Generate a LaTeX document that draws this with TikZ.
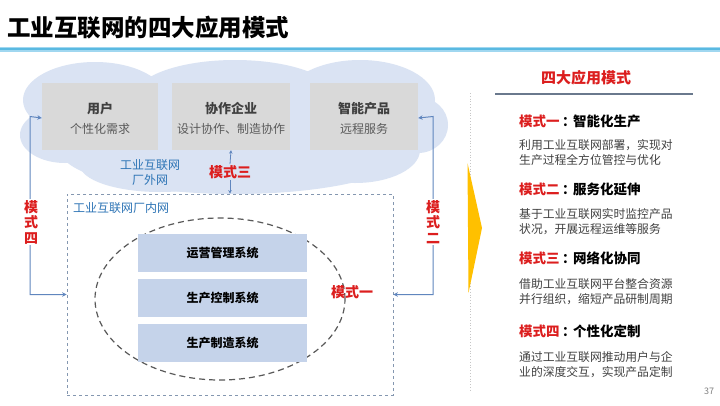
\documentclass[tikz,border=0pt]{standalone}
\usepackage{fontspec}
\setmainfont{Noto Sans CJK SC}
\usetikzlibrary{arrows.meta,shapes.geometric}
\definecolor{cloudc}{RGB}{218,227,243}
\definecolor{boxgray}{RGB}{217,217,217}
\definecolor{sysblue}{RGB}{197,211,234}
\definecolor{redc}{RGB}{220,30,30}
\definecolor{bluetext}{RGB}{46,117,182}
\definecolor{arrowc}{RGB}{96,134,190}
\definecolor{dashc}{RGB}{132,151,176}
\definecolor{darktext}{RGB}{64,64,64}
\definecolor{midtext}{RGB}{89,89,89}
\definecolor{yellowc}{RGB}{255,192,0}
\definecolor{bandc}{RGB}{90,185,225}
\definecolor{bandl}{RGB}{160,215,240}
\newcommand{\fwcolon}{\hspace{2.5pt}：\hspace{-2.5pt}}
\begin{document}
\begin{tikzpicture}[x=1pt,y=-1pt,
  graybox/.style={fill=boxgray, minimum height=67, inner sep=0pt, align=center},
  sysbox/.style={fill=sysblue, minimum width=169, minimum height=38, inner sep=0pt, font=\bfseries\fontsize{12}{12}\selectfont, text=black},
  redlab/.style={text=redc, font=\bfseries\fontsize{14}{16}\selectfont, inner sep=1pt, align=center},
  conn/.style={arrowc, line width=1pt, {Stealth[length=4.5pt,width=4.5pt]}-{Stealth[length=4.5pt,width=4.5pt]}},
  head/.style={anchor=west, inner sep=0pt, font=\bfseries\fontsize{13.5}{14}\selectfont},
  desc/.style={anchor=west, inner sep=0pt, align=left, text=darktext, font=\fontsize{11.8}{15}\selectfont}
]
\useasboundingbox (0,0) rectangle (720,405);
\fill[white] (0,0) rectangle (720,405);
% title
\node[anchor=west, inner sep=0pt, font=\bfseries\fontsize{23.5}{24}\selectfont] (title) at (7,28) {工业互联网的四大应用模式};
\fill[bandl] (0,47) rectangle (720,52);
\fill[bandc] (0,47.5) rectangle (720,50);
% cloud
\begin{scope}[cloudc]
\fill (95,100) ellipse [x radius=72, y radius=38];
\fill (235,96) ellipse [x radius=100, y radius=36];
\fill (360,100) ellipse [x radius=75, y radius=40];
\fill (418,125) ellipse [x radius=30, y radius=28];
\fill (65,135) ellipse [x radius=45, y radius=28];
\fill (235,150) ellipse [x radius=175, y radius=44];
\fill (160,165) ellipse [x radius=80, y radius=27];
\fill (355,150) ellipse [x radius=65, y radius=33];
\end{scope}
% top boxes
\node[graybox, minimum width=116] (user) at (100,116.5) {};
\node[graybox, minimum width=118] (coop) at (231,116.5) {};
\node[graybox, minimum width=108] (prod) at (364,116.5) {};
\foreach \n/\a/\b in {user/用户/个性化需求, coop/协作企业/设计协作、制造协作, prod/智能产品/远程服务}{
  \node[inner sep=0pt, text=darktext, font=\bfseries\fontsize{13}{13}\selectfont] (\n-t) at ([yshift=8]\n.center) {\a};
  \node[inner sep=0pt, text=midtext, font=\fontsize{12}{12}\selectfont] (\n-s) at ([yshift=-12.5]\n.center) {\b};
}
\node[text=bluetext, font=\fontsize{12}{15}\selectfont, align=center, inner sep=0pt] (outnet) at (150,173) {工业互联网\\厂外网};
% inner dashed rect
\node[draw=dashc, dashed, line width=0.8pt, minimum width=326, minimum height=201, inner sep=0pt] (inner) at (230,294.5) {};
\node[anchor=west, text=bluetext, font=\fontsize{12}{12}\selectfont, inner sep=0pt] (innet) at (73,208) {工业互联网厂内网};
% mode three
\node[redlab] (m3) at (230,172) {模式三};
\draw[arrowc, line width=0.8pt, -{Stealth[length=3.5pt,width=3.5pt]}] (m3.north) -- (coop.south);
\draw[arrowc, line width=0.8pt, -{Stealth[length=3.5pt,width=3.5pt]}] (m3.south) -- (m3.south |- inner.north);
% ellipse and systems
\node[ellipse, draw=midtext, dashed, dash pattern=on 6pt off 4pt, line width=1.2pt, minimum width=250, minimum height=162, inner sep=0pt] (ell) at (220,299) {};
\node[sysbox] (s1) at (222.5,252.5) {运营管理系统};
\node[sysbox] (s2) at (222.5,298) {生产控制系统};
\node[sysbox] (s3) at (222.5,343) {生产制造系统};
\node[redlab] (m1) at (352,292) {模式一};
% left connector (mode four)
\coordinate (lc) at (30,0);
\draw[conn] (inner.west) -| (lc |- user.center) -- (user.west |- 0,118);
\node[redlab, fill=white, font=\bfseries\fontsize{14}{15.5}\selectfont] (m4) at (31,222) {模\\式\\四};
% right connector (mode two)
\coordinate (rc) at (433,0);
\draw[conn] (inner.east) -| (rc |- prod.center) -- (prod.east |- 0,118);
\node[redlab, fill=white, font=\bfseries\fontsize{14}{15.5}\selectfont] (m2) at (433,222) {模\\式\\二};
% divider and yellow arrow
\draw[gray!45, dotted, line width=0.8pt] (470,93) -- (470,390);
\fill[yellowc] (467.5,163) -- (482,228) -- (468.5,293) -- cycle;
% right panel
\node[text=redc, font=\bfseries\fontsize{15}{15}\selectfont, inner sep=0pt] (ptitle) at (586,78) {四大应用模式};
\draw[dashc!80!black, line width=1.2pt] (495,94) -- (693,94);
\node[head] (h1) at (519,121) {\textcolor{redc}{模式一}\fwcolon 智能化生产};
\node[desc] (d1) at (519,153) {利用工业互联网部署，实现对\\生产过程全方位管控与优化};
\node[head] (h2) at (519,189) {\textcolor{redc}{模式二}\fwcolon 服务化延伸};
\node[desc] (d2) at (519,221.5) {基于工业互联网实时监控产品\\状况，开展远程运维等服务};
\node[head] (h3) at (519,258) {\textcolor{redc}{模式三}\fwcolon 网络化协同};
\node[desc] (d3) at (519,291.5) {借助工业互联网平台整合资源\\并行组织，缩短产品研制周期};
\node[head] (h4) at (519,331) {\textcolor{redc}{模式四}\fwcolon 个性化定制};
\node[desc] (d4) at (519,365) {通过工业互联网推动用户与企\\业的深度交互，实现产品定制};
\node[text=gray, font=\fontsize{9}{9}\selectfont, inner sep=0pt] (pg) at (709,391) {37};
\end{tikzpicture}
\end{document}
